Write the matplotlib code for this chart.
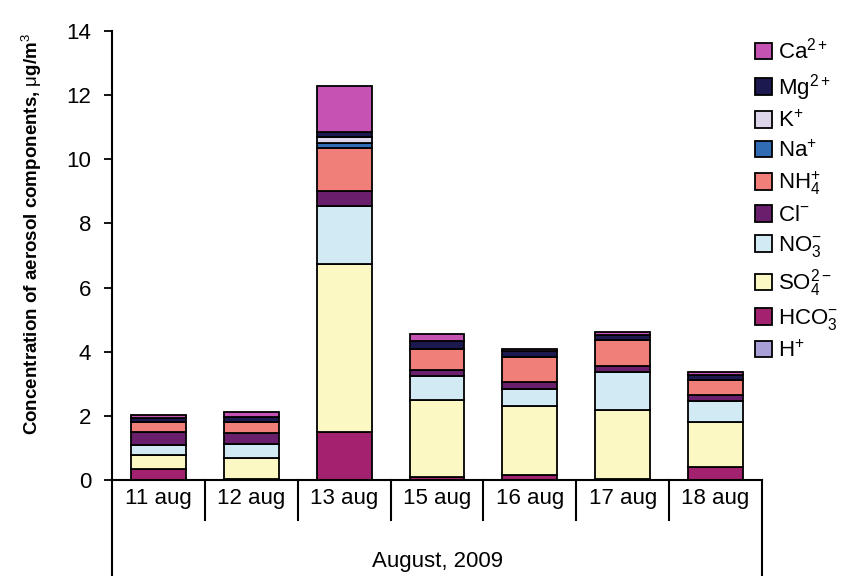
import matplotlib
matplotlib.use("Agg")
import matplotlib.pyplot as plt
from matplotlib.transforms import blended_transform_factory
import numpy as np

plt.rcParams['font.family'] = ['Liberation Sans', 'DejaVu Sans']
plt.rcParams['mathtext.fontset'] = 'custom'
plt.rcParams['mathtext.rm'] = 'Liberation Sans'
plt.rcParams['mathtext.it'] = 'Liberation Sans'
plt.rcParams['mathtext.bf'] = 'Liberation Sans:bold'

# sampling days
days = ['11 aug', '12 aug', '13 aug', '15 aug', '16 aug', '17 aug', '18 aug']

# ion concentrations, ug/m3 (stacked bottom -> top)
h_plus = [0.00, 0.00, 0.00, 0.00, 0.00, 0.00, 0.00]
hco3 = [0.33, 0.03, 1.49, 0.10, 0.16, 0.03, 0.39]
so4 = [0.45, 0.67, 5.24, 2.39, 2.15, 2.15, 1.42]
no3 = [0.32, 0.41, 1.81, 0.75, 0.53, 1.20, 0.64]
cl = [0.40, 0.35, 0.47, 0.19, 0.23, 0.19, 0.20]
nh4 = [0.32, 0.36, 1.34, 0.65, 0.78, 0.80, 0.47]
na = [0.00, 0.00, 0.15, 0.00, 0.00, 0.00, 0.00]
k = [0.00, 0.00, 0.20, 0.00, 0.00, 0.00, 0.00]
mg = [0.12, 0.15, 0.15, 0.25, 0.17, 0.16, 0.16]
ca = [0.08, 0.14, 1.44, 0.22, 0.06, 0.10, 0.10]

components = [
    (r'H$^{+}$', h_plus, '#a79fd6'),
    (r'HCO$_3^{-}$', hco3, '#a3226f'),
    (r'SO$_4^{2-}$', so4, '#fbf8c4'),
    (r'NO$_3^{-}$', no3, '#d2eaf4'),
    (r'Cl$^{-}$', cl, '#6a1f6c'),
    (r'NH$_4^{+}$', nh4, '#f07f7a'),
    (r'Na$^{+}$', na, '#2f6cb4'),
    (r'K$^{+}$', k, '#ddd5ea'),
    (r'Mg$^{2+}$', mg, '#1c1850'),
    (r'Ca$^{2+}$', ca, '#c453b4'),
]

fig = plt.figure(figsize=(8.44, 5.76), dpi=100)
ax = fig.add_axes([112 / 844, 96 / 576, 650 / 844, 449 / 576])

x = np.arange(len(days))
bottom = np.zeros(len(days))
handles = []
for label, vals, color in components:
    vals = np.array(vals)
    b = ax.bar(x, vals, width=0.59, bottom=bottom, color=color,
               edgecolor='black', linewidth=1.3, label=label)
    handles.append(b)
    bottom += vals

ax.set_xlim(-0.5, 6.5)
ax.set_ylim(0, 14)
ax.set_yticks(range(0, 15, 2))
ax.tick_params(axis='y', direction='out', length=6, width=1.3, labelsize=16, pad=9)
ax.set_xticks(x, days)
ax.tick_params(axis='x', length=0, labelsize=16, pad=6)

for side in ['top', 'right']:
    ax.spines[side].set_visible(False)
for side in ['left', 'bottom']:
    ax.spines[side].set_linewidth(1.5)

# category box under the axis
trans = blended_transform_factory(ax.transData, ax.transAxes)
for b in np.arange(0.5, 6, 1.0):
    ax.plot([b, b], [0, -0.09], transform=trans, clip_on=False, color='black', lw=1.5)
for b in [-0.5, 6.5]:
    ax.plot([b, b], [0, -0.25], transform=trans, clip_on=False, color='black', lw=1.5)

fig.text(438 / 844, 1 - 562 / 576, 'August, 2009', ha='center', va='center', fontsize=16)
fig.text(32 / 844, 1 - 234 / 576, r'Concentration of aerosol components, $\mu$g/m$^3$',
         rotation=90, ha='center', va='center', fontsize=13.5, fontweight='bold')

ax.legend(handles[::-1], [h.get_label() for h in handles[::-1]],
          loc='upper left', bbox_to_anchor=(755 / 844, 1 - 38 / 576),
          bbox_transform=fig.transFigure, frameon=False, fontsize=16,
          handlelength=0.75, handleheight=0.75, handletextpad=0.3,
          labelspacing=0.36, borderaxespad=0, borderpad=0)

fig.savefig('out.png', dpi=100)
